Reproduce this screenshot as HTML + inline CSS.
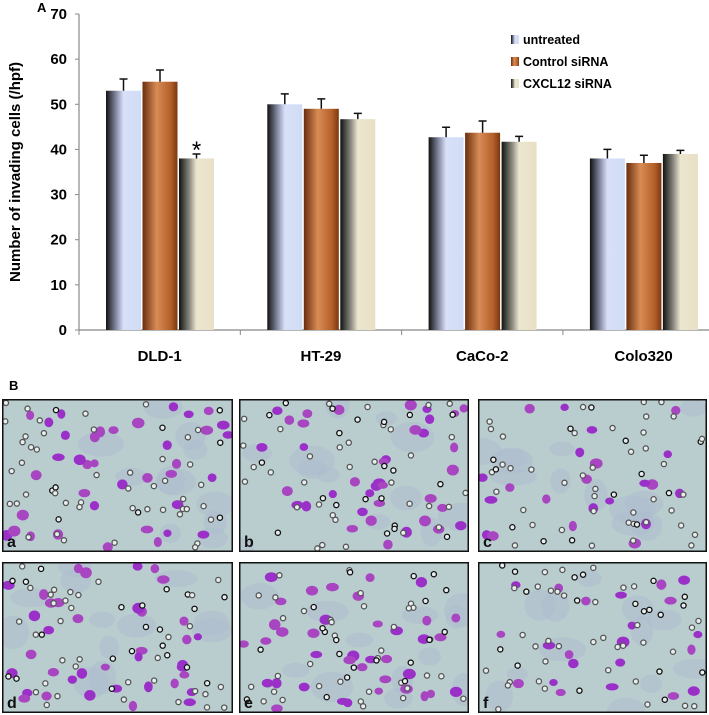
<!DOCTYPE html>
<html><head><meta charset="utf-8"><style>
body{margin:0;background:#fff;width:709px;height:715px;overflow:hidden;font-family:"Liberation Sans",sans-serif}
svg{display:block}
</style></head><body>
<svg id="fig" width="709" height="715" viewBox="0 0 709 715">
<defs id="defs">
<linearGradient id="g0" x1="0" x2="1"><stop offset="0" stop-color="#111"/><stop offset="0.3" stop-color="#8a8fa8"/><stop offset="0.5" stop-color="#d8e0f8"/><stop offset="1" stop-color="#d0dcf5"/></linearGradient>
<linearGradient id="g1" x1="0" x2="1"><stop offset="0" stop-color="#6a2d0e"/><stop offset="0.4" stop-color="#d88c55"/><stop offset="0.8" stop-color="#b5602a"/><stop offset="1" stop-color="#7a3810"/></linearGradient>
<linearGradient id="g2" x1="0" x2="1"><stop offset="0" stop-color="#111"/><stop offset="0.3" stop-color="#8a8a80"/><stop offset="0.5" stop-color="#ece6cf"/><stop offset="1" stop-color="#e8e0c5"/></linearGradient>
</defs>
<text x="37" y="12" font-size="13" font-weight="bold">A</text>
<text x="9" y="390" font-size="13" font-weight="bold">B</text>
<g id="chart"></g>
<g id="photos"></g>
</svg>
<script>
const categories=["DLD-1","HT-29","CaCo-2","Colo320"];
const seriesNames=["untreated","Control siRNA","CXCL12 siRNA"];
const untreated=[53,50,42.7,38];
const controlSiRNA=[55,49,43.7,37];
const cxcl12SiRNA=[38,46.7,41.7,39];
const errUntreated=[2.6,2.3,2.2,2];
const errControl=[2.6,2.2,2.6,1.7];
const errCxcl12=[1,1.3,1.2,0.8];
const yTicks=[0,10,20,30,40,50,60,70];

const NS="http://www.w3.org/2000/svg";
function mk(t,a,p){const e=document.createElementNS(NS,t);for(const k in a)e.setAttribute(k,a[k]);p.appendChild(e);return e;}
const chart=document.getElementById('chart');
const x0=79,catW=161.3,y0=330,yTop=14,yMax=70;
const yS=v=>y0-(v/yMax)*(y0-yTop);
const series=[untreated,controlSiRNA,cxcl12SiRNA];
const errs=[errUntreated,errControl,errCxcl12];
let ax=mk('line',{x1:x0,y1:yTop,x2:x0,y2:y0,stroke:'#888','stroke-width':1.2},chart);

ax=mk('line',{x1:x0,y1:y0,x2:709,y2:y0,stroke:'#888','stroke-width':1.2},chart);

yTicks.forEach(v=>{
  const y=yS(v);
  mk('line',{x1:x0-4,y1:y,x2:x0,y2:y,stroke:'#888'},chart);
  const t=mk('text',{x:x0-12,y:y+5,'font-size':15,'font-weight':'bold','text-anchor':'end'},chart);
  t.textContent=v;
  
  
});
const yt=mk('text',{x:20,y:172,'font-size':15,'font-weight':'bold','text-anchor':'middle',transform:'rotate(-90 20 172)'},chart);
yt.textContent='Number of invading cells (/hpf)';


categories.forEach((c,i)=>{
  const cx=x0+catW*i;
  mk('line',{x1:cx,y1:y0,x2:cx,y2:y0+5,stroke:'#888'},chart);
  const t=mk('text',{x:cx+catW/2,y:361,'font-size':15,'font-weight':'bold','text-anchor':'middle'},chart);
  t.textContent=c;
  
  
  series.forEach((s,j)=>{
    const bx=cx+27+j*36.5,bw=35,y=yS(s[i]);
    const r=mk('rect',{x:bx,y:y,width:bw,height:y0-y,fill:'url(#g'+j+')'},chart);
    
    
    const ye=yS(s[i]+errs[j][i]);
    const mx=bx+bw/2;
    const e=mk('path',{d:`M${mx},${y}V${ye}M${mx-4},${ye}H${mx+4}`,stroke:'#111','stroke-width':1.5,fill:'none'},chart);
    
    
  });
});
const star=mk('text',{x:x0+27+2*36.5+17.5,y:yS(cxcl12SiRNA[0]+errCxcl12[0])+4,'font-size':24,'text-anchor':'middle'},chart);
star.textContent='*';


seriesNames.forEach((n,j)=>{
  const y=44+j*22;
  const sw=mk('rect',{x:511,y:y-9,width:8,height:9,fill:'url(#g'+j+')'},chart);
  
  
  const t=mk('text',{x:523,y:y,'font-size':12.5,'font-weight':'bold'},chart);
  t.textContent=n;
  
  
});
const photos=document.getElementById('photos');
const defs=document.getElementById('defs');
const cols=[[2,233],[239,469],[478,707]],rows=[[399,552],[562,713]];
const letters=['a','b','c','d','e','f'];
let seed=7;function rnd(){seed=(seed*16807)%2147483647;return seed/2147483647;}
let k=0;
rows.forEach(r=>cols.forEach(c=>{
  const w=c[1]-c[0],h=r[1]-r[0];
  const cp=mk('clipPath',{id:'cp'+k},defs);
  mk('rect',{x:c[0],y:r[0],width:w,height:h},cp);
  const g=mk('g',{'clip-path':'url(#cp'+k+')'},photos);
  
  
  mk('rect',{x:c[0],y:r[0],width:w,height:h,fill:'#b9cdcf'},g);
  for(let i=0;i<12;i++)mk('ellipse',{cx:c[0]+rnd()*w,cy:r[0]+rnd()*h,rx:10+rnd()*14,ry:7+rnd()*10,fill:'#aebcd0',opacity:0.5},g);
  const nCells=k==2||k==5?22:38;
  for(let i=0;i<nCells;i++)mk('ellipse',{cx:c[0]+4+rnd()*(w-8),cy:r[0]+4+rnd()*(h-8),rx:4+rnd()*2.5,ry:3.5+rnd()*2,fill:rnd()<0.5?'#9a30c8':'#a845c0'},g);
  for(let i=0;i<55;i++){const cx=c[0]+3+rnd()*(w-6),cy=r[0]+3+rnd()*(h-6);
    mk('circle',{cx:cx,cy:cy,r:2.6,fill:'#e8eeee',stroke:rnd()<0.3?'#111':'#555','stroke-width':1.3},g);}
  mk('rect',{x:c[0]+0.75,y:r[0]+0.75,width:w-1.5,height:h-1.5,fill:'none',stroke:'#111','stroke-width':1.5},g);
  const t=mk('text',{x:c[0]+5,y:r[1]-5,'font-size':16,'font-weight':'bold',fill:'#111'},g);
  t.textContent=letters[k];
  
  
  k++;
}));
</script>
</body></html>
